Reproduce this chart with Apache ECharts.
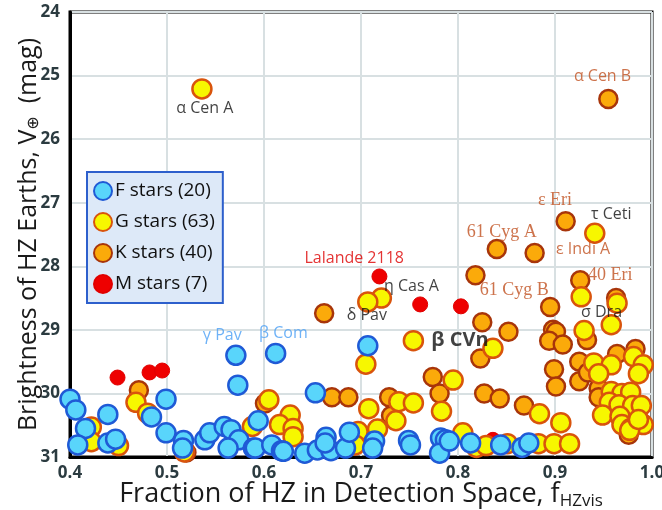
<!DOCTYPE html>
<html><head><meta charset="utf-8">
<script src="https://cdn.jsdelivr.net/npm/echarts@6/dist/echarts.min.js"></script>
<style>html,body{margin:0;padding:0;background:#fff}#c{width:662px;height:510px}</style>
</head><body><div id="c"></div>
<script>
const xTicks = [0.4, 0.5, 0.6, 0.7, 0.8, 0.9, 1.0];
const yTicks = [24, 25, 26, 27, 28, 29, 30, 31];
const legendNames = ['F stars (20)', 'G stars (63)', 'K stars (40)', 'M stars (7)'];

const fStars = [
  [0.400,30.09],[0.406,30.26],[0.439,30.33],[0.416,30.55],[0.408,30.81],[0.439,30.78],[0.447,30.72],
  [0.484,30.37],[0.499,30.09],[0.499,30.62],[0.517,30.74],[0.516,30.86],[0.539,30.73],[0.544,30.62],
  [0.559,30.52],[0.566,30.57],[0.574,30.73],[0.563,30.86],[0.589,30.86],[0.571,29.40],[0.573,29.87],
  [0.612,29.37],[0.707,29.25],[0.653,29.99],[0.594,30.43],[0.591,30.86],[0.608,30.81],[0.618,30.90],
  [0.620,30.91],[0.642,30.94],[0.655,30.89],[0.669,30.90],[0.684,30.86],[0.688,30.61],[0.664,30.69],
  [0.663,30.78],[0.714,30.75],[0.712,30.86],[0.749,30.74],[0.751,30.81],[0.782,30.70],[0.787,30.73],
  [0.781,30.94],[0.791,30.75],[0.813,30.78],[0.844,30.81],[0.866,30.85],[0.873,30.78]
];
const gStars = [
  [0.536,25.21],[0.941,27.48],[0.927,28.48],[0.964,28.58],[0.958,28.92],[0.930,29.01],[0.754,29.17],
  [0.721,28.50],[0.707,28.56],[0.705,29.54],[0.605,30.10],[0.795,29.79],[0.739,30.13],[0.754,30.15],
  [0.708,30.24],[0.468,30.14],[0.480,30.31],[0.422,30.53],[0.422,30.76],[0.450,30.82],[0.588,30.52],
  [0.627,30.34],[0.616,30.49],[0.630,30.55],[0.630,30.68],[0.736,30.43],[0.717,30.56],[0.697,30.60],
  [0.783,30.28],[0.694,30.81],[0.836,29.29],[0.981,29.42],[0.991,29.55],[0.940,29.52],[0.958,29.55],
  [0.945,29.69],[0.986,29.69],[0.958,29.97],[0.969,30.00],[0.978,29.98],[0.956,30.14],[0.966,30.18],
  [0.980,30.19],[0.989,30.19],[0.949,30.34],[0.967,30.36],[0.969,30.49],[0.978,30.55],[0.991,30.49],
  [0.977,30.58],[0.986,30.41],[0.884,30.32],[0.906,30.46],[0.805,30.62],[0.819,30.85],[0.829,30.82],
  [0.851,30.79],[0.883,30.79],[0.899,30.79],[0.915,30.79],[0.518,30.92]
];
const kStars = [
  [0.955,25.37],[0.911,27.29],[0.840,27.73],[0.879,27.79],[0.926,28.22],[0.963,28.50],[0.818,28.14],
  [0.895,28.64],[0.825,28.88],[0.852,29.03],[0.662,28.74],[0.670,30.06],[0.687,30.06],[0.774,29.74],
  [0.781,30.00],[0.729,30.06],[0.471,29.95],[0.601,30.16],[0.731,30.35],[0.898,29.00],[0.901,29.03],
  [0.894,29.17],[0.908,29.23],[0.933,29.16],[0.823,29.45],[0.899,29.62],[0.901,29.89],[0.925,29.81],
  [0.925,29.50],[0.964,29.38],[0.983,29.30],[0.934,29.67],[0.945,29.92],[0.945,30.06],[0.976,30.65],
  [0.827,30.00],[0.843,30.08],[0.868,30.19],[0.520,30.93]
];
const mStars = [
  [0.719,28.16],[0.761,28.60],[0.803,28.63],[0.449,29.75],[0.482,29.67],[0.495,29.64],[0.836,30.73]
];
// star names and where their names sit (data coordinates)
const annotationNames = ['α Cen A','α Cen B','ε Eri','τ Ceti','61 Cyg A','ε Indi A','40 Eri','61 Cyg B','σ Dra','Lalande 2118','η Cas A','δ Pav','β CVn','γ Pav','β Com'];
const annotationX = [0.539,0.949,0.900,0.958,0.845,0.929,0.957,0.858,0.948,0.693,0.752,0.706,0.802,0.557,0.620];
const annotationY = [25.51,25.02,26.96,27.19,27.47,27.74,28.14,28.37,28.72,27.88,28.32,28.78,29.16,29.08,29.05];

const BROWN = '#c0501f', BLACK = '#111', RED = '#dd0000', LBLUE = '#4a9ff5';
const annStyle = {
  'α Cen A': {color: BLACK}, 'α Cen B': {color: BROWN}, 'ε Eri': {color: BROWN, fontFamily: 'Liberation Serif', fontSize: 18},
  'τ Ceti': {color: BLACK}, '61 Cyg A': {color: BROWN, fontFamily: 'Liberation Serif', fontSize: 18},
  'ε Indi A': {color: BROWN}, '40 Eri': {color: BROWN, fontFamily: 'Liberation Serif', fontSize: 18},
  '61 Cyg B': {color: BROWN, fontFamily: 'Liberation Serif', fontSize: 18}, 'σ Dra': {color: BLACK},
  'Lalande 2118': {color: RED}, 'η Cas A': {color: BLACK}, 'δ Pav': {color: BLACK},
  'β CVn': {color: BLACK, fontWeight: 'bold', fontSize: 20}, 'γ Pav': {color: LBLUE}, 'β Com': {color: LBLUE}
};
const annData = annotationNames.map((n, i) => ({
  name: n, value: [annotationX[i], annotationY[i]],
  label: Object.assign({show: true, position: 'inside', formatter: n, fontFamily: 'Open Sans', fontSize: 16}, annStyle[n])
}));

const chart = echarts.init(document.getElementById('c'), null, {renderer: 'canvas'});
const starSeries = (name, data, fill, border, size, bw, z) => ({
  type: 'scatter', name, data, symbol: 'circle', symbolSize: size, z,
  itemStyle: {color: fill, borderColor: border, borderWidth: bw, opacity: 1},
  emphasis: {disabled: true}, animation: false
});
chart.setOption({
  animation: false,
  backgroundColor: '#fff',
  grid: {left: 70, right: 10, top: 12, bottom: 53, outerBoundsMode: 'none', containLabel: false,
    show: true, borderColor: '#000', borderWidth: 3, backgroundColor: 'transparent'},
  xAxis: {
    type: 'value', min: xTicks[0], max: xTicks[xTicks.length - 1], interval: 0.1,
    axisLine: {show: true, lineStyle: {color: '#000', width: 3}}, axisTick: {show: false},
    axisLabel: {formatter: v => v.toFixed(1), color: '#2b3b40', fontWeight: 'bold', fontSize: 17, fontFamily: 'Open Sans', margin: 8},
    splitLine: {show: true, lineStyle: {color: '#d8e0e2', width: 2}},
    name: 'Fraction of HZ in Detection Space, f{sub|HZvis}', nameLocation: 'middle', nameGap: 22, nameMoveOverlap: false,
    nameTextStyle: {fontSize: 27, color: '#1a1a1a', fontFamily: 'Open Sans',
      rich: {sub: {fontSize: 17, color: '#1a1a1a', fontFamily: 'Open Sans', padding: [14, 0, 0, 0]}}}
  },
  yAxis: {
    type: 'value', min: yTicks[0], max: yTicks[yTicks.length - 1], interval: 1, inverse: true,
    axisLine: {show: true, lineStyle: {color: '#000', width: 3}}, axisTick: {show: false},
    axisLabel: {color: '#2b3b40', fontWeight: 'bold', fontSize: 17, fontFamily: 'Open Sans', margin: 10},
    splitLine: {show: true, lineStyle: {color: '#d8e0e2', width: 2}},
    name: 'Brightness of HZ Earths, V{sub|⊕}  (mag)', nameLocation: 'middle', nameGap: 28, nameRotate: 90, nameMoveOverlap: false,
    nameTextStyle: {fontSize: 25, color: '#1a1a1a', fontFamily: 'Open Sans',
      rich: {sub: {fontSize: 16, color: '#1a1a1a', fontFamily: 'DejaVu Sans', padding: [10, 0, 0, 0]}}}
  },
  legend: {
    data: legendNames, orient: 'vertical', left: 87, top: 172,
    backgroundColor: '#dde9f8', borderColor: '#2d5fcc', borderWidth: 2, padding: [9, 8, 9, 6],
    itemWidth: 18, itemHeight: 18, itemGap: 11, icon: 'circle',
    textStyle: {fontSize: 19, color: '#111', fontFamily: 'Open Sans', padding: [0, 0, 0, -2]},
    selectedMode: false
  },
  series: [
    starSeries(legendNames[3], mStars, '#ee0000', '#e00000', 15, 1, 2),
    starSeries(legendNames[2], kStars, '#fbaa0a', '#a8350a', 18, 2.5, 3),
    starSeries(legendNames[1], gStars, '#f7f700', '#d9540c', 19, 2.5, 4),
    starSeries(legendNames[0], fStars, '#59d5fb', '#1f5ad6', 19, 2.5, 5),
    {type: 'scatter', name: 'labels', data: annData, symbolSize: 0, z: 6, silent: true, animation: false}
  ]
});
</script></body></html>
